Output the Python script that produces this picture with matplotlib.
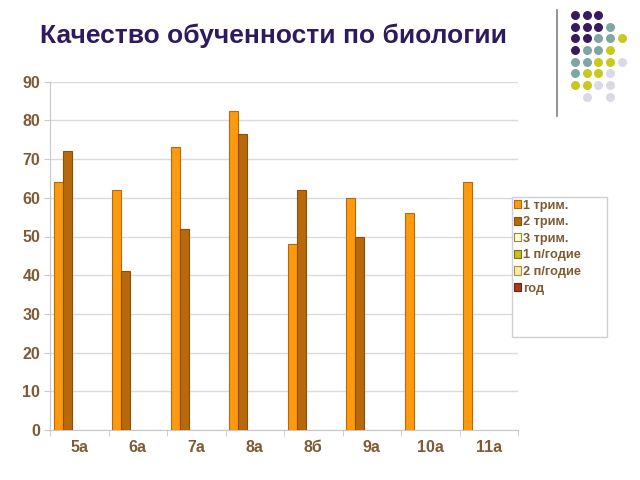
import numpy as np
import matplotlib
matplotlib.use("Agg")
import matplotlib.pyplot as plt
from matplotlib.patches import Rectangle

plt.rcParams['font.family'] = ['Liberation Sans', 'DejaVu Sans']

classes = ["5а", "6а", "7а", "8а", "8б", "9а", "10а", "11а"]
series_names = ["1 трим.", "2 трим.", "3 трим.", "1 п/годие", "2 п/годие", "год"]
trim1 = [64, 62, 73, 82.5, 48, 60, 56, 64]
trim2 = [72, 41, 52, 76.5, 62, 50, np.nan, np.nan]
trim3 = [np.nan] * 8
half1 = [np.nan] * 8
half2 = [np.nan] * 8
year = [np.nan] * 8
series = [trim1, trim2, trim3, half1, half2, year]
colors = ["#FF9A0E", "#B8690C", "#FFFFD0", "#C8C020", "#FFE89A", "#A83A1A"]
edges = ["#B06A10", "#8A4E0A", "#A08040", "#807010", "#A09050", "#702010"]

title_col = "#2E1A5C"
lab_col = "#7F5A32"

fig = plt.figure(figsize=(6.4, 4.8), dpi=100)
ax = fig.add_axes([50/640, 1-430/480, 468/640, (430-81.7)/480])

x = np.arange(len(classes))
w = 0.154
off = 0.068
handles = []
for k, vals in enumerate(series):
    b = ax.bar(x - 0.5 + off + k*w, vals, width=w, align='edge',
               color=colors[k], edgecolor=edges[k], linewidth=0.8, zorder=3,
               label=series_names[k])
    handles.append(b)

ax.set_xlim(-0.5, len(classes) - 0.5)
ax.set_ylim(0, 90)
ax.set_yticks(range(0, 91, 10))
ax.yaxis.grid(True, color="#DADADA", linewidth=1, zorder=0)
for s in ["top", "right"]:
    ax.spines[s].set_visible(False)
for s in ["left", "bottom"]:
    ax.spines[s].set_color("#C8C8C8")
ax.set_xticks(x)
ax.set_xticklabels(classes)
ax.set_xticks(np.arange(len(classes) + 1) - 0.5, minor=True)
ax.tick_params(axis='x', which='major', length=0, pad=7)
ax.tick_params(axis='x', which='minor', length=4, color="#C8C8C8")
ax.tick_params(axis='y', length=4, color="#C8C8C8", pad=3)
for t in ax.get_xticklabels() + ax.get_yticklabels():
    t.set_fontsize(11.5)
    t.set_fontweight('bold')
    t.set_color(lab_col)

# legend box
fig.patches.append(Rectangle((512/640, 1-337/480), 95/640, 140/480,
                             transform=fig.transFigure, facecolor="white",
                             edgecolor="#D0D0D0", linewidth=1, zorder=5))
leg = fig.legend(handles=handles, loc='upper left',
                 bbox_to_anchor=(511/640, 1-197/480), frameon=False,
                 handlelength=0.6, handleheight=0.6, handletextpad=0.15,
                 labelspacing=0.36, borderaxespad=0, borderpad=0.2,
                 prop={'size': 9.2, 'weight': 'bold'})
leg.set_zorder(6)
for t in leg.get_texts():
    t.set_color(lab_col)

fig.text(273/640, 1-36/480, "Качество обученности по биологии",
         ha='center', va='center', fontsize=19, fontweight='bold', color=title_col)

# decoration in the top right corner
deco = fig.add_axes([0, 0, 1, 1], zorder=-1)
deco.set_xlim(0, 640)
deco.set_ylim(480, 0)
deco.axis('off')
deco.plot([557, 557], [10, 116], color="#808080", linewidth=1.2)
P, T, Y, L = "#3A1A5E", "#7FA6A2", "#C9C81E", "#D9D9E8"
dot_rows = [
    [P, P, P, None, None],
    [P, P, P, T, None],
    [P, P, T, T, Y],
    [P, T, T, Y, None],
    [T, T, Y, Y, L],
    [T, Y, Y, L, None],
    [Y, Y, L, L, None],
    [None, L, None, L, None],
]
col_x = [575, 586.7, 598.3, 610, 621.7]
row_y = [15, 26.5, 38, 50, 61.5, 73, 84.5, 96.5]
for r, row in enumerate(dot_rows):
    for c, colr in enumerate(row):
        if colr:
            deco.scatter(col_x[c], row_y[r], s=42, color=colr, linewidths=0)

fig.savefig("out.png", dpi=100)
